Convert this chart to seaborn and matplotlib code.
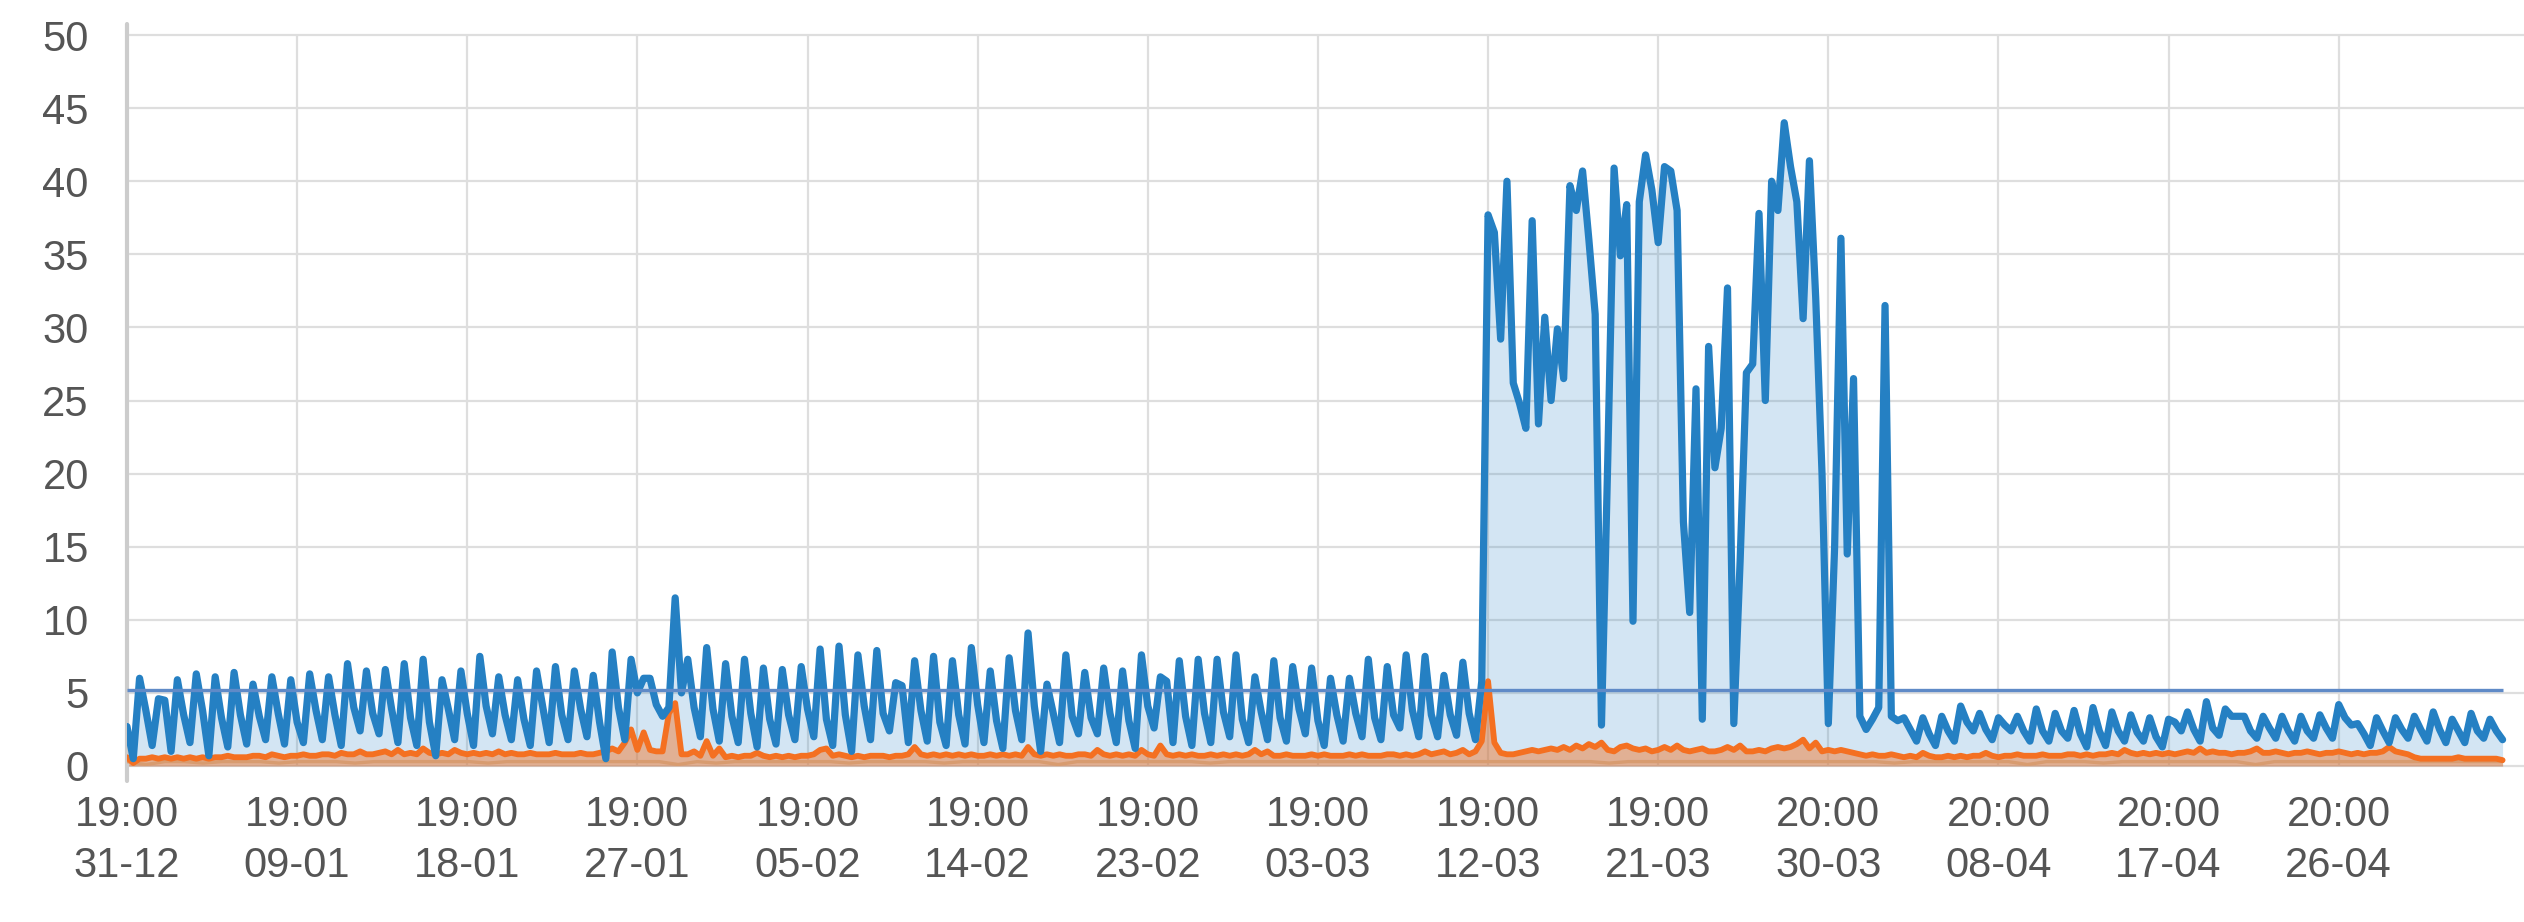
import numpy as np
import pandas as pd
import matplotlib
matplotlib.use("Agg")
import matplotlib.pyplot as plt
import seaborn as sns

# Samples every 8 hours starting 31-12 19:00 (x in days since start)
# each row = 3 days, each day = (19:00, 03:00, 11:00)
blue = [
    2.7, 0.5, 6.0,  3.8, 1.4, 4.6,  4.5, 1.0, 5.9,
    3.5, 1.6, 6.3,  3.8, 0.7, 6.1,  3.3, 1.3, 6.4,
    3.5, 1.5, 5.6,  3.4, 1.8, 6.1,  3.6, 1.5, 5.9,
    3.0, 1.6, 6.3,  3.8, 1.8, 6.1,  3.5, 1.4, 7.0,
    4.0, 2.4, 6.5,  3.6, 2.2, 6.6,  3.9, 1.6, 7.0,
    3.3, 1.4, 7.3,  3.0, 0.7, 5.9,  3.9, 1.8, 6.5,
    3.6, 1.4, 7.5,  4.1, 2.2, 6.1,  3.5, 1.8, 5.9,
    3.2, 1.4, 6.5,  4.0, 1.6, 6.8,  3.5, 1.8, 6.5,
    3.9, 2.0, 6.2,  3.0, 0.5, 7.8,  4.0, 1.8, 7.3,
    5.0, 6.0, 6.0,  4.2, 3.4, 4.0,  11.5, 5.0, 7.3,
    4.0, 2.0, 8.1,  3.9, 1.7, 7.0,  3.4, 1.6, 7.3,
    3.6, 1.3, 6.7,  3.2, 1.5, 6.6,  3.5, 1.8, 6.8,
    3.9, 2.0, 8.0,  3.2, 1.4, 8.2,  3.5, 1.0, 7.6,
    4.1, 1.8, 7.9,  3.6, 2.4, 5.7,  5.5, 1.6, 7.2,
    3.8, 1.7, 7.5,  3.0, 1.4, 7.2,  3.5, 1.5, 8.1,
    4.2, 1.6, 6.5,  3.1, 1.2, 7.4,  3.8, 1.8, 9.1,
    4.1, 1.0, 5.6,  3.6, 1.6, 7.6,  3.4, 2.2, 6.4,
    3.3, 2.2, 6.7,  3.6, 1.6, 6.5,  3.1, 1.2, 7.6,
    4.1, 2.6, 6.1,  5.8, 1.6, 7.2,  3.4, 1.4, 7.3,
    3.6, 1.6, 7.3,  3.7, 2.0, 7.6,  3.2, 1.6, 6.1,
    3.7, 1.8, 7.2,  3.3, 1.7, 6.8,  3.9, 2.2, 6.7,
    3.1, 1.4, 6.0,  3.5, 1.7, 6.0,  3.6, 2.0, 7.3,
    3.3, 1.8, 6.8,  3.5, 2.6, 7.6,  3.8, 2.0, 7.5,
    3.5, 2.0, 6.2,  3.5, 2.1, 7.1,  3.6, 1.8, 5.8,
    37.7, 36.5, 29.2,  40.0, 26.2, 24.8,  23.1, 37.3, 23.4,
    30.7, 25.0, 29.9,  26.5, 39.7, 38.0,  40.7, 36.0, 30.9,
    2.8, 21.0, 40.9,  34.9, 38.4, 9.9,  38.6, 41.8, 39.4,
    35.8, 41.0, 40.7,  38.0, 16.7, 10.5,  25.8, 3.2, 28.7,
    20.4, 23.1, 32.7,  2.9, 14.0, 26.9,  27.5, 37.8, 25.0,
    40.0, 38.0, 44.0,  41.0, 38.6, 30.6,  41.4, 32.0, 20.0,
    2.9, 15.0, 36.1,  14.5, 26.5, 3.4,  2.5, 3.2, 4.0,
    31.5, 3.4, 3.1,  3.3, 2.5, 1.7,  3.3, 2.2, 1.4,
    3.4, 2.4, 1.7,  4.1, 3.0, 2.4,  3.6, 2.5, 1.8,
    3.3, 2.8, 2.4,  3.4, 2.4, 1.7,  3.9, 2.4, 1.7,
    3.6, 2.4, 1.9,  3.8, 2.2, 1.3,  4.0, 2.4, 1.4,
    3.7, 2.4, 1.7,  3.5, 2.3, 1.7,  3.3, 2.0, 1.3,
    3.2, 3.0, 2.4,  3.7, 2.5, 1.7,  4.4, 2.6, 2.1,
    3.9, 3.4, 3.4,  3.4, 2.4, 1.9,  3.4, 2.6, 1.9,
    3.4, 2.4, 1.7,  3.4, 2.4, 1.9,  3.5, 2.6, 1.9,
    4.2, 3.3, 2.8,  2.9, 2.2, 1.4,  3.3, 2.4, 1.6,
    3.3, 2.5, 1.9,  3.4, 2.5, 1.7,  3.7, 2.5, 1.6,
    3.2, 2.4, 1.6,  3.6, 2.4, 1.9,  3.2, 2.4, 1.8,
]

orange = [
    0.6, 0.2, 0.5,  0.5, 0.6, 0.5,  0.6, 0.5, 0.6,
    0.5, 0.6, 0.5,  0.6, 0.5, 0.6,  0.6, 0.7, 0.6,
    0.6, 0.6, 0.7,  0.7, 0.6, 0.8,  0.7, 0.6, 0.7,
    0.7, 0.8, 0.7,  0.7, 0.8, 0.8,  0.7, 0.9, 0.8,
    0.8, 1.0, 0.8,  0.8, 0.9, 1.0,  0.8, 1.1, 0.8,
    0.9, 0.8, 1.2,  0.9, 0.8, 0.9,  0.8, 1.1, 0.9,
    0.8, 0.9, 0.8,  0.9, 0.8, 1.0,  0.8, 0.9, 0.8,
    0.8, 0.9, 0.8,  0.8, 0.8, 0.9,  0.8, 0.8, 0.8,
    0.9, 0.8, 0.8,  0.9, 1.0, 1.2,  1.0, 1.6, 2.5,
    1.1, 2.3, 1.1,  1.0, 1.0, 3.6,  4.3, 0.8, 0.8,
    1.0, 0.7, 1.7,  0.7, 1.2, 0.6,  0.7, 0.6, 0.7,
    0.7, 0.9, 0.7,  0.6, 0.7, 0.6,  0.7, 0.6, 0.7,
    0.7, 0.8, 1.1,  1.2, 0.7, 0.8,  0.7, 0.6, 0.7,
    0.6, 0.7, 0.7,  0.7, 0.6, 0.7,  0.7, 0.8, 1.3,
    0.8, 0.7, 0.8,  0.7, 0.8, 0.7,  0.8, 0.7, 0.8,
    0.7, 0.7, 0.8,  0.7, 0.8, 0.7,  0.8, 0.7, 1.3,
    0.8, 0.7, 0.8,  0.7, 0.8, 0.7,  0.7, 0.8, 0.8,
    0.7, 1.1, 0.8,  0.7, 0.8, 0.7,  0.8, 0.7, 1.1,
    0.8, 0.7, 1.4,  0.8, 0.7, 0.8,  0.7, 0.8, 0.7,
    0.7, 0.8, 0.7,  0.8, 0.7, 0.8,  0.7, 0.8, 1.1,
    0.8, 1.0, 0.7,  0.7, 0.8, 0.7,  0.7, 0.7, 0.8,
    0.7, 0.8, 0.7,  0.7, 0.7, 0.8,  0.7, 0.8, 0.7,
    0.7, 0.7, 0.8,  0.8, 0.7, 0.8,  0.7, 0.8, 1.0,
    0.8, 0.9, 1.0,  0.8, 0.9, 1.1,  0.8, 1.0, 1.7,
    5.8, 1.6, 0.9,  0.8, 0.8, 0.9,  1.0, 1.1, 1.0,
    1.1, 1.2, 1.1,  1.3, 1.1, 1.4,  1.2, 1.5, 1.3,
    1.6, 1.1, 1.0,  1.3, 1.4, 1.2,  1.1, 1.2, 1.0,
    1.1, 1.3, 1.1,  1.4, 1.1, 1.0,  1.1, 1.2, 1.0,
    1.0, 1.1, 1.3,  1.1, 1.4, 1.0,  1.0, 1.1, 1.0,
    1.2, 1.3, 1.2,  1.3, 1.5, 1.8,  1.2, 1.6, 1.0,
    1.1, 1.0, 1.1,  1.0, 0.9, 0.8,  0.7, 0.8, 0.7,
    0.7, 0.8, 0.7,  0.6, 0.7, 0.6,  0.9, 0.7, 0.6,
    0.6, 0.7, 0.6,  0.7, 0.6, 0.7,  0.7, 0.9, 0.7,
    0.6, 0.7, 0.7,  0.8, 0.7, 0.7,  0.7, 0.8, 0.7,
    0.7, 0.7, 0.8,  0.8, 0.7, 0.8,  0.7, 0.8, 0.8,
    0.9, 0.8, 1.1,  0.9, 0.8, 0.9,  0.8, 0.9, 0.8,
    0.9, 0.8, 0.9,  1.0, 0.9, 1.2,  0.9, 1.0, 0.9,
    0.9, 0.8, 0.9,  0.9, 1.0, 1.2,  0.9, 0.9, 1.0,
    0.9, 0.8, 0.9,  0.9, 1.0, 0.9,  0.8, 0.9, 0.9,
    1.0, 0.9, 0.8,  0.9, 0.8, 0.9,  0.9, 1.0, 1.3,
    1.0, 0.9, 0.8,  0.6, 0.5, 0.5,  0.5, 0.5, 0.5,
    0.5, 0.6, 0.5,  0.5, 0.5, 0.5,  0.5, 0.5, 0.4,
]

# one value per day, low baseline series
floor = [
    0.3, 0.1, 0.3, 0.3, 0.2, 0.3, 0.3, 0.3, 0.2,
    0.3, 0.3, 0.3, 0.2, 0.3, 0.3, 0.3, 0.3, 0.3,
    0.3, 0.2, 0.3, 0.3, 0.3, 0.3, 0.3, 0.3, 0.3,
    0.3, 0.3, 0.1, 0.3, 0.2, 0.3, 0.3, 0.3, 0.3,
    0.3, 0.3, 0.2, 0.3, 0.3, 0.3, 0.3, 0.2, 0.3,
    0.3, 0.3, 0.3, 0.3, 0.1, 0.3, 0.3, 0.3, 0.3,
    0.3, 0.3, 0.3, 0.2, 0.3, 0.3, 0.3, 0.3, 0.3,
    0.3, 0.3, 0.3, 0.3, 0.3, 0.3, 0.3, 0.3, 0.3,
    0.3, 0.3, 0.3, 0.3, 0.3, 0.3, 0.2, 0.3, 0.3,
    0.3, 0.3, 0.3, 0.3, 0.3, 0.3, 0.3, 0.3, 0.3,
    0.3, 0.3, 0.3, 0.2, 0.3, 0.3, 0.3, 0.3, 0.3,
    0.3, 0.1, 0.3, 0.3, 0.3, 0.2, 0.3, 0.3, 0.3,
    0.3, 0.3, 0.3, 0.3, 0.1, 0.3, 0.3, 0.3, 0.3,
    0.3, 0.3, 0.3, 0.3, 0.3, 0.3, 0.3, 0.3, 0.3,
]

threshold = 5.2

tick_days = [0, 9, 18, 27, 36, 45, 54, 63, 72, 81, 90, 99, 108, 117]
tick_labels = [
    "19:00\n31-12", "19:00\n09-01", "19:00\n18-01", "19:00\n27-01",
    "19:00\n05-02", "19:00\n14-02", "19:00\n23-02", "19:00\n03-03",
    "19:00\n12-03", "19:00\n21-03", "20:00\n30-03", "20:00\n08-04",
    "20:00\n17-04", "20:00\n26-04",
]

t = np.arange(len(blue)) / 3
df = pd.DataFrame({"t": t, "blue": blue, "orange": orange})
t_floor = np.linspace(0, t[-1], len(floor))

BLUE = "#2580c3"
ORANGE = "#f47021"
TAN = "#d89c70"
GRID = "#dedede"
TEXT = "#555555"

sns.set_theme(style="white")
plt.rcParams["font.family"] = ["Liberation Sans", "DejaVu Sans"]

fig = plt.figure(figsize=(25.24, 9.22), dpi=100)
ax = fig.add_axes([0.0503, 0.1692, 0.9497, 0.7928])

ax.fill_between(df["t"], 0, df["blue"], color=BLUE, alpha=0.2, lw=0)
ax.fill_between(df["t"], 0, df["orange"], color=ORANGE, alpha=0.45, lw=0)
ax.plot(t_floor, floor, color=TAN, lw=2.4)
sns.lineplot(data=df, x="t", y="orange", color=ORANGE, lw=4.2, ax=ax)
sns.lineplot(data=df, x="t", y="blue", color=BLUE, lw=5.2, ax=ax)
ax.hlines(threshold, t[0], t[-1], color="#5f8ac7", lw=2.4, zorder=5)

ax.set_xlim(0, 126.8)
ax.set_ylim(0, 50)
ax.set_yticks(range(0, 51, 5))
ax.set_xticks(tick_days)
ax.set_xticklabels(tick_labels)
ax.set_xlabel("")
ax.set_ylabel("")

ax.grid(True, color=GRID, lw=1.6)
ax.set_axisbelow(True)
for gl in ax.get_ygridlines():
    gl.set_clip_on(False)
for s in ax.spines.values():
    s.set_visible(False)

ax.tick_params(axis="x", length=10, width=1.6, color=GRID, pad=11,
               labelsize=30, labelcolor=TEXT)
ax.tick_params(axis="y", length=13.5, width=1.6, color=GRID, pad=14,
               labelsize=30, labelcolor=TEXT)
plt.setp(ax.get_xticklabels(), linespacing=1.35)

# left axis line, a bit longer than the plot area
ax.plot([0, 0], [-0.02, 1.015], transform=ax.transAxes, color="#cccccc",
        lw=3, clip_on=False, zorder=1)

fig.savefig("out.png", dpi=100)
